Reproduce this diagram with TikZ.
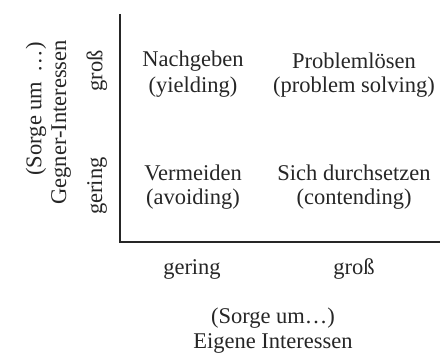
\documentclass[tikz,border=0pt]{standalone}
\usepackage{fontspec}
\setmainfont{Liberation Serif}
\begin{document}
\begin{tikzpicture}[x=1pt,y=-1pt,
  lbl/.style={inner sep=0pt,font=\fontsize{22.5}{26}\selectfont,text=black!85,align=center},
  axis/.style={line width=1.3pt,black!85}]
\useasboundingbox (0,0) rectangle (447,353);
\coordinate (top) at (120,14);
\coordinate (origin) at (120,242);
\coordinate (right) at (440,242);
\draw[axis] (top) -- (origin) -- (right);
\node[lbl] (ny) at (193,61) {Nachgeben};
\node[lbl] (nyy) at (193,87) {(yielding)};
\node[lbl] (ps) at (354,61) {Problemlösen};
\node[lbl] (pss) at (354,87) {(problem solving)};
\node[lbl] (va) at (193,173) {Vermeiden};
\node[lbl] (vaa) at (193,199) {(avoiding)};
\node[lbl] (sc) at (354,173) {Sich durchsetzen};
\node[lbl] (scc) at (354,199) {(contending)};
\node[lbl,rotate=90] (lg) at (97,71) {groß};
\node[lbl,rotate=90] (lk) at (97,186) {gering};
\node[lbl,rotate=90,anchor=east] (ls) at (36,42) {(Sorge um \,…)};
\node[lbl,rotate=90,anchor=east] (lgi) at (61,40) {Gegner-Interessen};
\node[lbl] (bk) at (192,269) {gering};
\node[lbl] (bg) at (354,269) {groß};
\node[lbl] (bs) at (273,318) {(Sorge um…)};
\node[lbl] (bei) at (273,343) {Eigene Interessen};
\end{tikzpicture}
\end{document}
